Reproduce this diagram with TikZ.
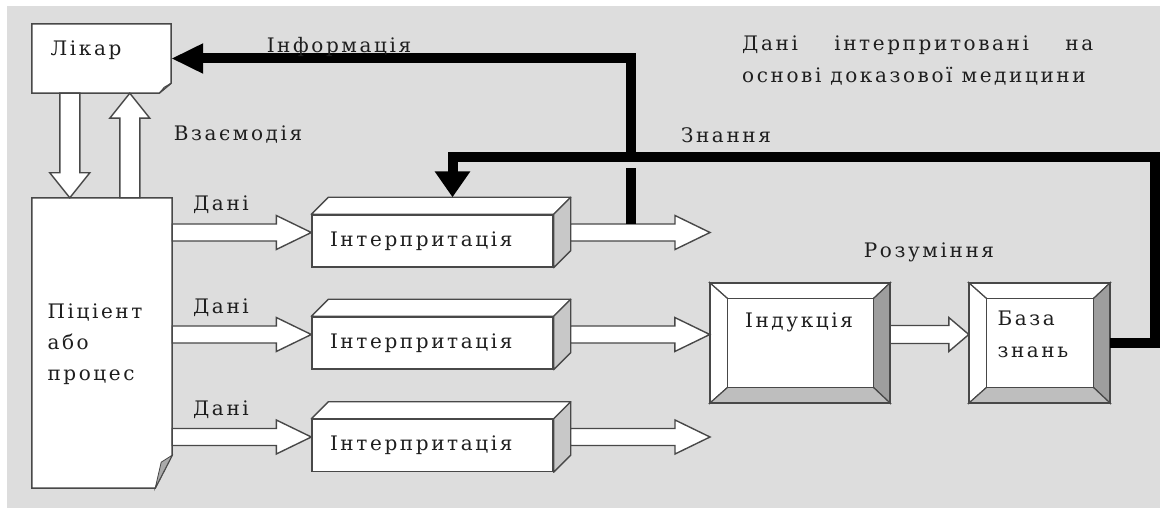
\documentclass[tikz,border=0pt]{standalone}
\usepackage{fontspec}
\setmainfont{DejaVu Serif}[LetterSpace=13]
\usetikzlibrary{calc,arrows.meta}
\definecolor{bg}{RGB}{221,221,221}
\definecolor{edge}{RGB}{72,72,72}
\definecolor{txt}{RGB}{30,30,30}
\definecolor{side}{RGB}{200,200,200}
\definecolor{bevR}{RGB}{158,158,158}
\definecolor{bevB}{RGB}{190,190,190}
\definecolor{flapc}{RGB}{170,170,170}
\tikzset{
  every node/.style={font=\fontsize{20}{25}\selectfont, text=txt},
  shapebox/.style={inner sep=0pt},
  docline/.style={draw=edge, fill=white, line width=1.5pt, line join=miter},
  flap/.style={draw=edge, fill=flapc, line width=0.8pt},
  barrow/.style={draw=edge, fill=white, line width=1.4pt, line join=miter},
  heavy/.style={draw=black, line width=10pt, line join=miter},
  ibox/.style={draw=edge, fill=white, line width=1.4pt, minimum width=241pt, minimum height=52pt,
               text width=205pt, align=left, inner xsep=18pt, inner ysep=0pt},
  face/.style={draw=edge, line width=1.4pt, line join=round},
  bev/.style={draw=edge, line width=1.2pt, line join=miter},
}
\newcommand\blkRight[5]{%
  \draw[barrow] ($(#1)+(0,-#3)$) -- ($(#2)+(-#5,-#3)$) -- ($(#2)+(-#5,-#4)$) -- (#2)
    -- ($(#2)+(-#5,#4)$) -- ($(#2)+(-#5,#3)$) -- ($(#1)+(0,#3)$) -- cycle;}
\newcommand\blkDown[5]{%
  \draw[barrow] ($(#1)+(-#3,0)$) -- ($(#2)+(-#3,-#5)$) -- ($(#2)+(-#4,-#5)$) -- (#2)
    -- ($(#2)+(#4,-#5)$) -- ($(#2)+(#3,-#5)$) -- ($(#1)+(#3,0)$) -- cycle;}
\newcommand\blkUp[5]{%
  \draw[barrow] ($(#1)+(-#3,0)$) -- ($(#2)+(-#3,#5)$) -- ($(#2)+(-#4,#5)$) -- (#2)
    -- ($(#2)+(#4,#5)$) -- ($(#2)+(#3,#5)$) -- ($(#1)+(#3,0)$) -- cycle;}
\newcommand\cuboid[1]{%
  \draw[face, fill=white] (#1.north west) -- ++(17,-17) -- ($(#1.north east)+(17,-17)$) -- (#1.north east) -- cycle;
  \draw[face, fill=side] (#1.north east) -- ++(17,-17) -- ($(#1.south east)+(17,-17)$) -- (#1.south east) -- cycle;}
\newcommand\bevel[1]{%
  \coordinate (#1-a) at ($(#1.north west)+(18,16)$);
  \coordinate (#1-b) at ($(#1.north east)+(-17,16)$);
  \coordinate (#1-c) at ($(#1.south east)+(-17,-16)$);
  \coordinate (#1-d) at ($(#1.south west)+(18,-16)$);
  \draw[bev, fill=white] (#1.north west) -- (#1.north east) -- (#1-b) -- (#1-a) -- cycle;
  \draw[bev, fill=white] (#1.north west) -- (#1-a) -- (#1-d) -- (#1.south west) -- cycle;
  \draw[bev, fill=bevR] (#1.north east) -- (#1.south east) -- (#1-c) -- (#1-b) -- cycle;
  \draw[bev, fill=bevB] (#1.south west) -- (#1.south east) -- (#1-c) -- (#1-d) -- cycle;
  \draw[bev, fill=white] (#1-a) rectangle (#1-c);
  \draw[bev, line width=1.6pt] (#1.north west) rectangle (#1.south east);}
\begin{document}
\begin{tikzpicture}[x=1pt, y=-1pt]
\useasboundingbox (0,0) rectangle (1160,510);
\fill[white] (0,0) rectangle (1160,510);
\fill[bg] (7,6) rectangle (1160,508);

% ---- doctor (document shape)
\node[shapebox, minimum width=139pt, minimum height=69pt] (likar) at (101.5,58.5) {};
\draw[docline] (likar.north west) -- (likar.north east) -- ($(likar.south east)+(0,-10)$)
  -- ($(likar.south east)+(-12,0)$) -- (likar.south west) -- cycle;
\draw[flap] ($(likar.south east)+(0,-10)$) -- ($(likar.south east)+(-7,-6)$) -- ($(likar.south east)+(-12,0)$) -- cycle;
\node (tLikar) at (86,50) {Лікар};

% ---- patient (document shape)
\node[shapebox, minimum width=140pt, minimum height=290pt] (pat) at (102,343) {};
\draw[docline] (pat.north west) -- (pat.north east) -- ($(pat.south east)+(0,-33)$)
  -- ($(pat.south east)+(-17,0)$) -- (pat.south west) -- cycle;
\draw[flap] ($(pat.south east)+(0,-33)$) -- ($(pat.south east)+(-11,-26)$) -- ($(pat.south east)+(-17,0)$) -- cycle;
\node[anchor=west, align=left, font=\fontsize{20}{31}\selectfont] (tPat) at (44,344) {Піціент\\або\\процес};

% ---- interaction arrows
\coordinate (dnS) at ($(likar.south west)+(38,0)$);
\coordinate (dnE) at (pat.north west -| dnS);
\blkDown{dnS}{dnE}{10}{20}{25}
\coordinate (upS) at ($(pat.north west)+(98,0)$);
\coordinate (upE) at (likar.south west -| upS);
\blkUp{upS}{upE}{10}{20}{25}
\node (tVz) at (238,135) {Взаємодія};

% ---- interpretation boxes
\node[ibox] (i1) at (432.5,241) {Інтерпритація};
\node[ibox] (i2) at (432.5,343) {Інтерпритація};
\node[ibox] (i3) at (432.5,445.5) {Інтерпритація};
\cuboid{i1}
\cuboid{i2}
\cuboid{i3}

% ---- induction & knowledge base
\node[shapebox, minimum width=180pt, minimum height=120pt] (ind) at (800,343) {};
\node[shapebox, minimum width=141pt, minimum height=120pt] (base) at (1039.5,343) {};
\bevel{ind}
\bevel{base}
\node (tInd) at (799,322) {Індукція};
\node[anchor=west, align=left, font=\fontsize{20}{32}\selectfont] (tBase) at (994,334) {База\\знань};

% ---- data arrows (patient -> interpretation)
\coordinate (a1) at ($(i1.west)+(0,-8.5)$);
\coordinate (a2) at ($(i2.west)+(0,-8.5)$);
\coordinate (a3) at ($(i3.west)+(0,-8.5)$);
\blkRight{pat.east |- a1}{a1}{8.5}{17}{35}
\blkRight{pat.east |- a2}{a2}{8.5}{17}{35}
\blkRight{pat.east |- a3}{a3}{8.5}{17}{35}
\node (tD1) at (221,205) {Дані};
\node (tD2) at (221,308) {Дані};
\node (tD3) at (221,410) {Дані};

% ---- output arrows
\coordinate (o1) at ($(i1.east)+(17,-8.5)$);
\coordinate (o2) at ($(i2.east)+(17,-8.5)$);
\coordinate (o3) at ($(i3.east)+(17,-8.5)$);
\coordinate (o1e) at (710,0 |- o1);
\coordinate (o2e) at (ind.west |- o2);
\coordinate (o3e) at (710,0 |- o3);
\blkRight{o1}{o1e}{8.5}{17}{35}
\blkRight{o2}{o2e}{8.5}{17}{35}
\blkRight{o3}{o3e}{8.5}{17}{35}

% ---- induction -> base
\coordinate (b1) at (ind.east |- o2);
\coordinate (b2) at (base.west |- o2);
\blkRight{b1}{b2}{9}{17}{20}

% ---- Information (heavy)
\coordinate (infS) at ($(o1)+(60,-8.5)$);
\coordinate (infG1) at (infS |- 0,168);
\coordinate (infG2) at (infS |- 0,161);
\draw[heavy] (infS) -- (infG1);
\draw[heavy, -{Triangle[length=32pt,width=28pt]}] (infG2) |- (likar.east);
\node (tInfo) at (339,47) {Інформація};

% ---- Knowledge (heavy)
\coordinate (knR) at (1155,0 |- base.east);
\coordinate (knT) at (1155,157);
\coordinate (knTip) at ($(i1.north)+(20,-17)$);
\draw[heavy, -{Triangle[length=26pt,width=34pt]}] (base.east) -- (knR) -- (knT) -| (knTip);
\node (tZn) at (726,135) {Знання};

% ---- other labels
\node (tRoz) at (929,252) {Розуміння};
\node[anchor=west, inner sep=0pt] (tEv1) at (742,45) {\makebox[351pt][l]{Дані\hfill інтерпритовані\hfill на}};
\node[anchor=west, inner sep=0pt] (tEv2) at (742,76) {основі доказової медицини};
\end{tikzpicture}
\end{document}
